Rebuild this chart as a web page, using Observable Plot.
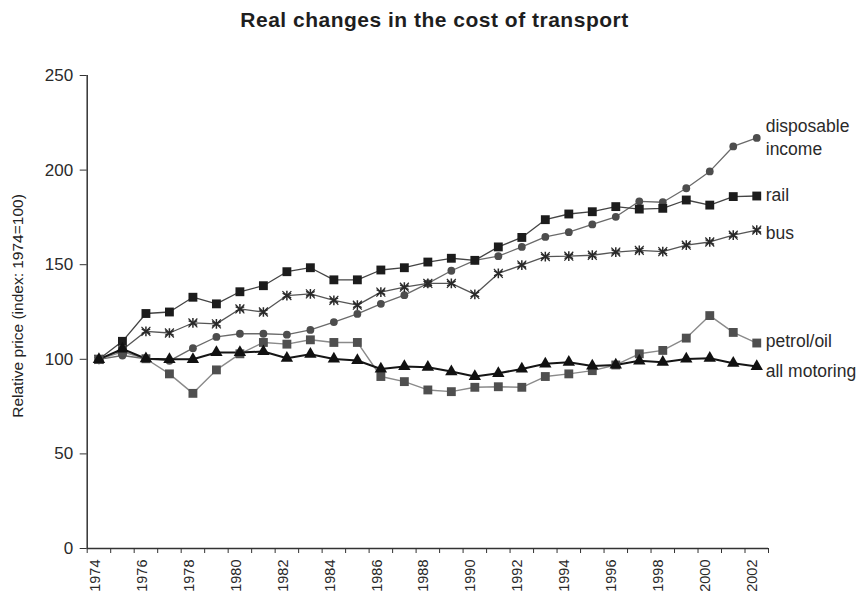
<!DOCTYPE html>
<html>
<head>
<meta charset="utf-8">
<script src="https://cdn.jsdelivr.net/npm/d3@7"></script>
<script src="https://cdn.jsdelivr.net/npm/@observablehq/plot@0.6"></script>
<style>
  html, body { margin: 0; padding: 0; background: #fff; }
  #wrap { position: relative; width: 861px; height: 594px; overflow: hidden; font-family: "Liberation Sans", Arial, sans-serif; }
  #title { position: absolute; top: 9px; left: 0; width: 861px; padding-left: 8px; box-sizing: border-box; text-align: center; font-weight: bold; font-size: 21px; letter-spacing: 0.5px; line-height: 22px; color: #1e1e1e; }
  #chart { position: absolute; top: 40px; left: 0; }
</style>
</head>
<body>
<div id="wrap">
  <div id="title">Real changes in the cost of transport</div>
  <div id="chart"></div>
</div>
<script>
const years = d3.range(1974, 2003);
const seriesNames = ["disposable income", "rail", "bus", "petrol/oil", "all motoring"];
const income   = [100, 102, 100.3, 99.2, 105.9, 111.8, 113.5, 113.5, 113, 115.5, 119.7, 124, 129.3, 133.9, 140.1, 146.8, 152.3, 154.5, 159.4, 164.7, 167.2, 171.3, 175.3, 183.5, 183, 190.4, 199.3, 212.5, 217];
const rail     = [100, 109.5, 124.2, 125, 132.8, 129.3, 135.7, 138.9, 146.3, 148.4, 142, 142, 147.2, 148.4, 151.4, 153.4, 152.3, 159.4, 164.4, 173.8, 176.8, 178, 180.7, 179.4, 179.8, 184.2, 181.5, 186, 186.3];
const bus      = [100, 105, 114.8, 113.9, 119.2, 118.7, 126.6, 125, 133.7, 134.6, 131.2, 128.6, 135.5, 138.1, 140.1, 140.1, 134.3, 145.4, 149.8, 154.3, 154.5, 155, 156.7, 157.6, 156.9, 160.3, 162, 165.6, 168.3];
const petrol   = [100, 104, 100.3, 92.3, 82, 94.4, 102.9, 108.9, 108, 110.3, 108.9, 108.9, 90.9, 88.2, 83.8, 82.9, 85.2, 85.5, 85.2, 90.9, 92.3, 94, 97, 102.9, 104.7, 111.2, 123.1, 114.2, 108.6];
const motoring = [100, 105.5, 100.3, 100, 100, 103.6, 103.6, 104.1, 100.6, 102.7, 100.2, 99.4, 94.9, 96.2, 95.8, 93.5, 90.9, 92.6, 94.9, 97.6, 98.5, 96.5, 97, 99.2, 98.5, 100.2, 100.6, 97.9, 96.2];
const yTicks = [0, 50, 100, 150, 200, 250];
const xLabelYears = d3.range(1974, 2003, 2);
const yLabel = "Relative price (index: 1974=100)";

const valuesBySeries = {
  "disposable income": income, "rail": rail, "bus": bus,
  "petrol/oil": petrol, "all motoring": motoring
};
const table = (name) => years.map((year, i) => ({series: name, year, value: valuesBySeries[name][i]}));
const last = (name) => [table(name)[years.length - 1]];

const style = {
  "disposable income": {line: "#6a6a6a", mark: "#4d4d4d", symbol: "circle", r: 3.9, lw: 1.3},
  "rail":              {line: "#444",    mark: "#1c1c1c", symbol: "square", r: 5, lw: 1.3},
  "bus":               {line: "#555",    mark: "#2a2a2a", symbol: "asterisk", r: 4.6, lw: 1.3},
  "petrol/oil":        {line: "#8a8a8a", mark: "#4f4f4f", symbol: "square", r: 5, lw: 1.4},
  "all motoring":      {line: "#151515", mark: "#111",    symbol: "triangle", r: 4.6, lw: 2}
};
const labelText = {"disposable income": "disposable\nincome", "rail": "rail", "bus": "bus", "petrol/oil": "petrol/oil", "all motoring": "all motoring"};
const labelDy = {"disposable income": -2, "rail": -2, "bus": 2, "petrol/oil": -3, "all motoring": 3};

const marks = [];
marks.push(Plot.ruleY([0], {stroke: "#333", strokeWidth: 1.5}));
marks.push(Plot.ruleX([1973.5], {stroke: "#333", strokeWidth: 1.5}));
marks.push(Plot.axisY({ticks: yTicks, tickSize: 7, tickPadding: 7, fontSize: 17, label: null, stroke: "#333", color: "#2a2a2a"}));
marks.push(Plot.axisX({ticks: d3.range(1973.5, 2003, 1), tickSize: 5, tickFormat: () => "", label: null, stroke: "#333"}));
marks.push(Plot.axisX({ticks: xLabelYears, tickSize: 0, tickRotate: -90, tickPadding: 11, fontSize: 14.5, dx: -4, tickFormat: d => String(d), label: null, color: "#2a2a2a"}));
marks.push(Plot.text([yLabel], {frameAnchor: "left", text: d => d, rotate: -90, dx: -69, dy: -6, fontSize: 15.5, fill: "#222", textAnchor: "middle"}));

for (const name of seriesNames) {
  const s = style[name];
  marks.push(Plot.line(table(name), {x: "year", y: "value", stroke: s.line, strokeWidth: s.lw}));
}
for (const name of seriesNames) {
  const s = style[name];
  if (s.symbol === "asterisk") {
    marks.push(Plot.dot(table(name), {x: "year", y: "value", symbol: "asterisk", r: s.r, stroke: s.mark, strokeWidth: 1.5}));
    marks.push(Plot.dot(table(name), {x: "year", y: "value", symbol: "times", r: s.r * 0.9, stroke: s.mark, strokeWidth: 1.2}));
  } else {
    marks.push(Plot.dot(table(name), {x: "year", y: "value", symbol: s.symbol, r: s.r, fill: s.mark, stroke: "none"}));
  }
  marks.push(Plot.text(last(name), {x: "year", y: "value", text: () => labelText[name], textAnchor: "start", dx: 9, dy: labelDy[name], fontSize: 17.5, lineHeight: 1.3, fill: "#2a2a2a"}));
}

const chart = Plot.plot({
  width: 861,
  height: 554,
  marginLeft: 86.7,
  marginRight: 93,
  marginTop: 35,
  marginBottom: 46,
  style: {fontFamily: "'Liberation Sans', Arial, sans-serif", background: "#fff", overflow: "visible"},
  x: {domain: [1973.5, 2002.5], axis: null},
  y: {domain: [0, 250], axis: null},
  marks
});
document.getElementById("chart").appendChild(chart);
</script>
</body>
</html>
